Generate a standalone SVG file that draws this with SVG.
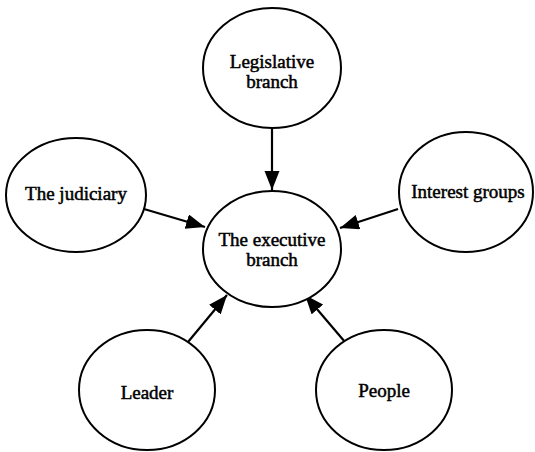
<svg xmlns="http://www.w3.org/2000/svg" width="535" height="452" viewBox="0 0 535 452">
<style>
.n ellipse{fill:#fff;stroke:#000;stroke-width:2}
.n text{font-family:"Liberation Serif","Times New Roman",serif;font-size:19px;fill:#000;text-anchor:middle;stroke:#000;stroke-width:0.5}
.c line{stroke:#000;stroke-width:2.2;marker-end:url(#ah)}
</style>
<defs>
<marker id="ah" markerUnits="userSpaceOnUse" markerWidth="20" markerHeight="16" refX="19" refY="7.5" orient="auto">
<path d="M0,0 L19,7.5 L0,15 z" fill="#000"/>
</marker>
</defs>
<rect width="535" height="452" fill="#fff"/>
<g id="connectors" class="c">
<line x1="272" y1="128" x2="272" y2="190"/>
<line x1="144" y1="209" x2="205" y2="227"/>
<line x1="398" y1="209" x2="340" y2="228"/>
<line x1="188" y1="342" x2="227" y2="295"/>
<line x1="345" y1="342" x2="305" y2="295"/>
</g>
<g id="legislative" class="n">
<ellipse cx="272" cy="68" rx="69" ry="60"/>
<text x="272" y="68">Legislative</text>
<text x="272" y="88">branch</text>
</g>
<g id="executive" class="n">
<ellipse cx="272" cy="249" rx="69" ry="58"/>
<text x="272" y="246">The executive</text>
<text x="272" y="266">branch</text>
</g>
<g id="judiciary" class="n">
<ellipse cx="76" cy="195" rx="70" ry="57"/>
<text x="76" y="200">The judiciary</text>
</g>
<g id="interest" class="n">
<ellipse cx="466" cy="192" rx="67" ry="60"/>
<text x="468" y="198">Interest groups</text>
</g>
<g id="leader" class="n">
<ellipse cx="147" cy="390" rx="68" ry="60"/>
<text x="147" y="399">Leader</text>
</g>
<g id="people" class="n">
<ellipse cx="384" cy="390" rx="68" ry="60"/>
<text x="384" y="397">People</text>
</g>
</svg>
